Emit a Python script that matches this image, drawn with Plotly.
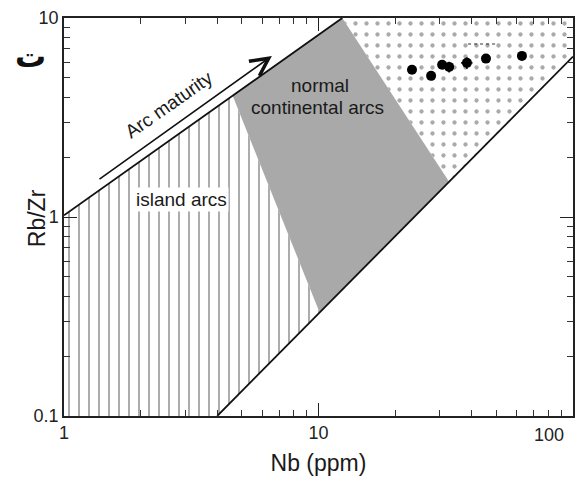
import numpy as np
import plotly.graph_objects as go

# ---- data ----
# field boundaries (Nb ppm, Rb/Zr)
upper_line_x = [1, 12.4]
upper_line_y = [1.02, 10]
lower_line_x = [4, 100]
lower_line_y = [0.1, 6.4]
island_x = [1, 4, 10.1, 4.6, 1]
island_y = [0.1, 0.1, 0.331, 4.07, 1.02]
continental_x = [4.6, 12.4, 32.6, 10.1]
continental_y = [4.07, 10, 1.504, 0.331]
mature_x = [12.4, 100, 100, 32.6]
mature_y = [10, 10, 6.4, 1.504]
# short dashed segment inside mature field
dash_x = [38.7, 49.4]
dash_y = [7.4, 7.4]
# samples
sample_nb = [23.3, 27.7, 30.6, 32.6, 38.3, 45.5, 63]
sample_rbzr = [5.5, 5.12, 5.82, 5.68, 5.95, 6.25, 6.45]
sample_err_nb = [0, 0, 0, 1.3, 2.0, 0, 0]
sample_err_rbzr = [0, 0, 0, 0.35, 0.4, 0.3, 0]
# arc maturity arrow (tail, tip)
arrow_x = [1.36, 6.56]
arrow_y = [1.53, 6.45]
# ticks
x_tickvals = [1, 10, 100]
x_ticktext = ["1", "10", "100"]
y_tickvals = [0.1, 1, 10]
y_ticktext = ["0.1", "1", "10"]

FONT = "Liberation Sans, Arial, sans-serif"
lg = np.log10

fig = go.Figure()
fig.add_trace(go.Scatter(
    x=island_x, y=island_y, mode="lines", fill="toself", line=dict(width=0),
    fillcolor="white",
    fillpattern=dict(shape="|", size=10, solidity=0.17, fgcolor="#3c3c3c", bgcolor="white"),
    hoverinfo="skip", showlegend=False))
fig.add_trace(go.Scatter(
    x=mature_x, y=mature_y, mode="lines", fill="toself", line=dict(width=0),
    fillcolor="white",
    fillpattern=dict(shape=".", size=11, solidity=0.12, fgcolor="#555555", bgcolor="white"),
    hoverinfo="skip", showlegend=False))
fig.add_trace(go.Scatter(
    x=continental_x, y=continental_y, mode="lines", fill="toself", line=dict(width=0),
    fillcolor="#a9a9a9", hoverinfo="skip", showlegend=False))
fig.add_trace(go.Scatter(x=upper_line_x, y=upper_line_y, mode="lines",
                         line=dict(color="#111", width=1.8), showlegend=False))
fig.add_trace(go.Scatter(x=lower_line_x, y=lower_line_y, mode="lines",
                         line=dict(color="#111", width=1.8), showlegend=False))
fig.add_trace(go.Scatter(x=dash_x, y=dash_y, mode="lines",
                         line=dict(color="#333", width=1.2, dash="dot"), showlegend=False))
fig.add_trace(go.Scatter(
    x=sample_nb, y=sample_rbzr, mode="markers",
    marker=dict(color="black", size=10, symbol="circle"),
    error_x=dict(type="data", array=sample_err_nb, color="black", thickness=1.5, width=0),
    error_y=dict(type="data", array=sample_err_rbzr, color="black", thickness=1.5, width=0),
    showlegend=False))

ann = []
ann.append(dict(x=lg(arrow_x[1]), y=lg(arrow_y[1]), ax=lg(arrow_x[0]), ay=lg(arrow_y[0]),
                xref="x", yref="y", axref="x", ayref="y", text="", showarrow=True,
                arrowhead=5, arrowsize=2.2, arrowwidth=1.6, arrowcolor="#111", standoff=0))
txt = dict(showarrow=False, font=dict(family=FONT, size=19, color="#1a1a1a"), xref="x", yref="y")
ann.append(dict(x=0.4126, y=0.565, text="Arc maturity", textangle=-35, **txt))
ann.append(dict(x=0.46, y=0.09, text="island arcs", bgcolor="white", **txt))
ann.append(dict(x=1.006, y=0.663, text="normal", **txt))
ann.append(dict(x=0.998, y=0.548, text="continental arcs", **txt))
ann.append(dict(x=-0.1, y=0.955, xref="paper", yref="paper", text="<b>ت</b>",
                showarrow=False, font=dict(family="DejaVu Sans", size=31, color="#111")))
ann.append(dict(x=-0.0825, y=0.497, xref="paper", yref="paper", text="Rb/Zr", textangle=-90,
                showarrow=False, font=dict(family=FONT, size=23, color="#1a1a1a")))
# last x tick label sits inside the right edge, as in the reference
ann.append(dict(x=0.953, y=-0.047, xref="paper", yref="paper", xanchor="center", yanchor="middle",
                text=x_ticktext[2], showarrow=False, font=dict(family=FONT, size=18, color="#222")))

axis_common = dict(
    type="log", showline=True, linecolor="#222", linewidth=1.5, mirror="ticks",
    ticks="inside", ticklen=13, tickwidth=1.3, tickcolor="#222",
    showgrid=False, zeroline=False, automargin=False,
    tickfont=dict(family=FONT, size=18, color="#222"),
    minor=dict(ticks="inside", ticklen=6, tickwidth=1.2, tickcolor="#333", dtick="D1", showgrid=False),
)
fig.update_layout(
    width=588, height=486,
    margin=dict(l=64, r=15, t=18, b=70, autoexpand=False),
    paper_bgcolor="white", plot_bgcolor="white",
    xaxis=dict(range=[0, 2], tickvals=x_tickvals, ticktext=x_ticktext[:2] + [""],
               title=dict(text="Nb (ppm)", font=dict(family=FONT, size=23, color="#1a1a1a"), standoff=13),
               **axis_common),
    yaxis=dict(range=[-1, 1], tickvals=y_tickvals, ticktext=y_ticktext, **axis_common),
    annotations=ann,
)
fig.write_html("out.html", config={"displayModeBar": False},
               post_script="document.body.style.margin='0';document.body.style.overflow='hidden';")
